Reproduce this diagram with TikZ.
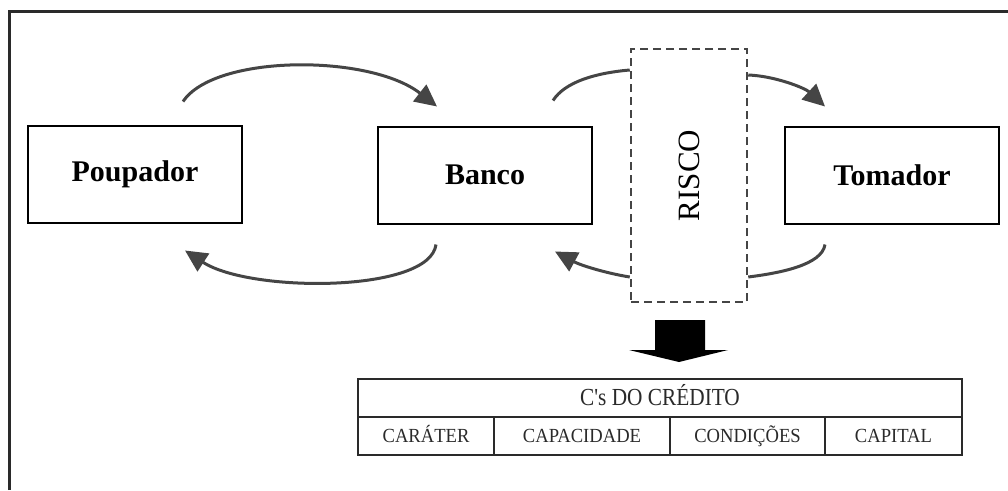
\documentclass[tikz,border=0pt]{standalone}
\usepackage{fontspec}
\setmainfont{Liberation Serif}
\usetikzlibrary{arrows.meta,calc}
\definecolor{flowgray}{HTML}{454545}
\definecolor{inkgray}{HTML}{2A2A2A}
% narrow setting for the table texts
\newcommand{\narrowtext}[2]{\scalebox{#1}[1]{#2}}
\begin{document}
\begin{tikzpicture}[x=1pt,y=-1pt,
  box/.style={draw=black, line width=2pt, fill=white, inner sep=0pt,
    minimum width=214pt, minimum height=97pt,
    font=\fontsize{30}{36}\selectfont\bfseries},
  riskbox/.style={draw=flowgray, line width=2.5pt, dash pattern=on 8pt off 5pt,
    fill=white, inner sep=0pt, minimum width=116pt, minimum height=253pt},
  tcell/.style={draw=inkgray, line width=2pt, inner sep=0pt, text=inkgray,
    minimum height=38pt, text height=13.5pt, text depth=0pt,
    font=\fontsize{20}{24}\selectfont},
  flowline/.style={draw=flowgray, line width=3pt},
  flow/.style={flowline, -{Triangle[length=22pt,width=21pt]}},
]
\useasboundingbox (0,0) rectangle (1008,490);

% outer frame (only left and top edges lie inside the page)
\draw[line width=3pt, draw=inkgray] (9,490) -- (9,11) -- (1008,11);

% main actors
\node[box] (pou) at (135,174) {Poupador};
\node[box] (ban) at (485,175) {Banco};
\node[box] (tom) at (892,175) {Tomador};

% risk zone between bank and borrower
\node[riskbox] (risco) at (689,175.5)
  {\rotatebox{90}{\fontsize{31}{36}\selectfont RISCO}};

% savings flow: saver -> bank -> borrower
\draw[flow] ($(pou.north)+(48,-23)$)
  .. controls (215,54) and (370,54) .. ($(ban.north)+(-48,-19)$);
\draw[flowline] ($(ban.north)+(68,-25)$)
  .. controls (565,82) and (595,73) .. ($(risco.west)+(0,-105.5)$);
\draw[flow] ($(risco.east)+(0,-100.5)$)
  .. controls (775,76) and (805,88) .. ($(tom.north)+(-67,-19)$);

% return flow: borrower -> bank -> saver
\draw[flowline] ($(tom.south)+(-67,20)$)
  .. controls (822,265) and (780,273) .. ($(risco.east)+(0,101.5)$);
\draw[flow] ($(risco.west)+(0,101.5)$)
  .. controls (605,273) and (580,265) .. ($(ban.south)+(70,27)$);
\draw[flow] ($(ban.south)+(-49,20)$)
  .. controls (430,293) and (250,293) .. ($(pou.south)+(50,27)$);

% block arrow pointing to the table
\fill[black] (655,320) -- (705,320) -- (705,350) -- (728,350) -- (679,362)
  -- (629,350) -- (655,350) -- cycle;

% table of the C's of credit
\node[tcell, minimum width=604pt, text height=16.5pt,
      font=\fontsize{24.5}{28}\selectfont]
  (hdr) at (660,397.5) {\narrowtext{0.87}{C\textquotesingle s DO CRÉDITO}};
\node[tcell, minimum width=136pt] (c1) at (426,436) {\narrowtext{0.93}{CARÁTER}};
\node[tcell, minimum width=176pt] (c2) at (582,436) {\narrowtext{0.93}{CAPACIDADE}};
\node[tcell, minimum width=155pt] (c3) at (747.5,436) {\narrowtext{0.93}{CONDIÇÕES}};
\node[tcell, minimum width=137pt] (c4) at (893.5,436) {\narrowtext{0.93}{CAPITAL}};
\end{tikzpicture}
\end{document}
